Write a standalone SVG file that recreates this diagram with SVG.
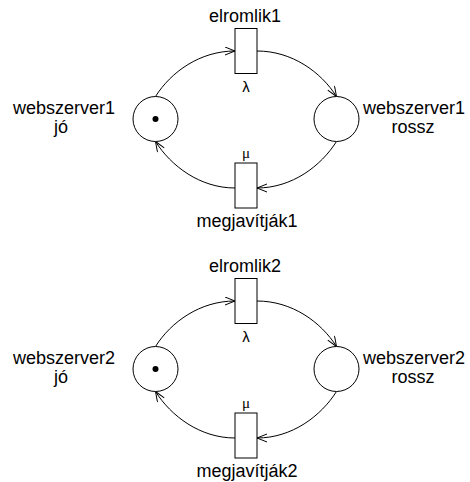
<svg xmlns="http://www.w3.org/2000/svg" width="470" height="482" viewBox="0 0 470 482">
<style>
.pl{fill:#fff;stroke:#000;stroke-width:1}
.tr{fill:#fff;stroke:#000;stroke-width:1}
.tok{fill:#000}
.arc{fill:none;stroke:#000;stroke-width:1;marker-end:url(#arr)}
text{font-family:"Liberation Sans",Arial,sans-serif;font-size:18px;fill:#000}
.rate{font-size:15px}
.mu{font-family:"Liberation Serif","Times New Roman",serif;font-size:15px}
</style>
<defs>
<marker id="arr" markerWidth="12" markerHeight="10" refX="11" refY="4.5" orient="auto" markerUnits="userSpaceOnUse">
<path d="M1,0.5 L11,4.5 L1,8.5" fill="none" stroke="#000" stroke-width="1"/>
</marker>
</defs>
<g id="connectors">
<path class="arc" d="M155.5 96.5 C171 72 200 51 235 51"/>
<path class="arc" d="M257 51 C292 51 321 72 336.5 96.5"/>
<path class="arc" d="M336.5 141.5 C321 166 292 188 257 188"/>
<path class="arc" d="M235 188 C200 188 171 166 155.5 141.5"/>
<path class="arc" d="M155.5 346.5 C171 322 200 301 235 301"/>
<path class="arc" d="M257 301 C292 301 321 322 336.5 346.5"/>
<path class="arc" d="M336.5 391.5 C321 416 292 438 257 438"/>
<path class="arc" d="M235 438 C200 438 171 416 155.5 391.5"/>
</g>
<g id="webszerver1_jo">
<circle class="pl" cx="155.5" cy="119" r="22.5"/>
<circle class="tok" cx="155.5" cy="119" r="3"/>
<text x="64" y="114" text-anchor="middle">webszerver1</text>
<text x="61" y="133" text-anchor="middle">jó</text>
</g>
<g id="webszerver1_rossz">
<circle class="pl" cx="336.5" cy="119" r="22.5"/>
<text x="414" y="114" text-anchor="middle">webszerver1</text>
<text x="413" y="133" text-anchor="middle">rossz</text>
</g>
<g id="elromlik1">
<rect class="tr" x="235" y="28.5" width="22" height="45"/>
<text x="245" y="22" text-anchor="middle">elromlik1</text>
<text class="rate" x="246" y="92" text-anchor="middle">λ</text>
</g>
<g id="megjavitjak1">
<rect class="tr" x="235" y="163" width="22" height="45"/>
<text class="mu" x="246" y="157.5" text-anchor="middle">μ</text>
<text x="247" y="227" text-anchor="middle">megjavítják1</text>
</g>
<g id="webszerver2_jo">
<circle class="pl" cx="155.5" cy="369" r="22.5"/>
<circle class="tok" cx="155.5" cy="369" r="3"/>
<text x="64" y="364" text-anchor="middle">webszerver2</text>
<text x="61" y="383" text-anchor="middle">jó</text>
</g>
<g id="webszerver2_rossz">
<circle class="pl" cx="336.5" cy="369" r="22.5"/>
<text x="414" y="364" text-anchor="middle">webszerver2</text>
<text x="413" y="383" text-anchor="middle">rossz</text>
</g>
<g id="elromlik2">
<rect class="tr" x="235" y="278.5" width="22" height="45"/>
<text x="245" y="272" text-anchor="middle">elromlik2</text>
<text class="rate" x="246" y="342" text-anchor="middle">λ</text>
</g>
<g id="megjavitjak2">
<rect class="tr" x="235" y="413" width="22" height="45"/>
<text class="mu" x="246" y="407.5" text-anchor="middle">μ</text>
<text x="247" y="477" text-anchor="middle">megjavítják2</text>
</g>
</svg>
